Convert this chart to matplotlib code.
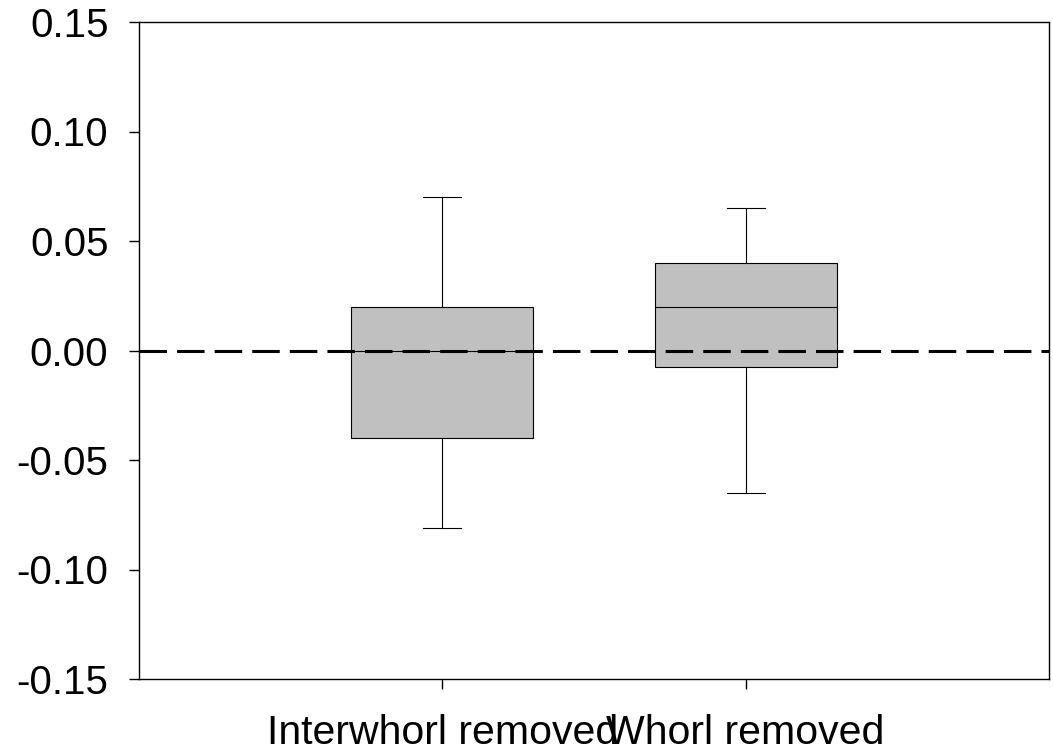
import matplotlib.pyplot as plt

# box summary values per treatment
groups = ["Interwhorl removed", "Whorl removed"]
q1 = [-0.040, -0.0077]
median = [0.0, 0.020]
q3 = [0.020, 0.040]
whisker_low = [-0.081, -0.065]
whisker_high = [0.070, 0.065]
yticks = [-0.15, -0.10, -0.05, 0.00, 0.05, 0.10, 0.15]

plt.rcParams["font.family"] = ["Liberation Sans", "DejaVu Sans"]

fig = plt.figure(figsize=(10.53, 7.52), dpi=100)
ax = fig.add_axes([139 / 1053, 1 - 679 / 752, 910 / 1053, 657 / 752])

stats = []
for i, name in enumerate(groups):
    stats.append({
        "label": name,
        "q1": q1[i], "med": median[i], "q3": q3[i],
        "whislo": whisker_low[i], "whishi": whisker_high[i],
        "fliers": [],
    })

lw = 0.8
ax.bxp(stats, positions=[1, 2], widths=0.6, patch_artist=True,
       showfliers=False,
       boxprops=dict(facecolor="#c0c0c0", edgecolor="black", linewidth=lw),
       medianprops=dict(color="black", linewidth=lw),
       whiskerprops=dict(color="black", linewidth=lw),
       capprops=dict(color="black", linewidth=lw),
       capwidths=0.125)

# zero reference line
ax.axhline(0, color="black", linewidth=2.2, dashes=(9, 3.3), zorder=3)

ax.set_xlim(0, 3)
ax.set_ylim(-0.15, 0.15)
ax.set_yticks(yticks)
ax.set_yticklabels([f"{t:.2f}" for t in yticks])
ax.set_xticks([1, 2])
ax.set_xticklabels(groups)

for s in ax.spines.values():
    s.set_linewidth(1.0)
ax.tick_params(axis="y", direction="out", length=7, width=1.0, pad=15,
               labelsize=29)
ax.tick_params(axis="x", direction="out", length=7, width=1.0, pad=18,
               labelsize=29.5)

fig.savefig("out.png", dpi=100)
